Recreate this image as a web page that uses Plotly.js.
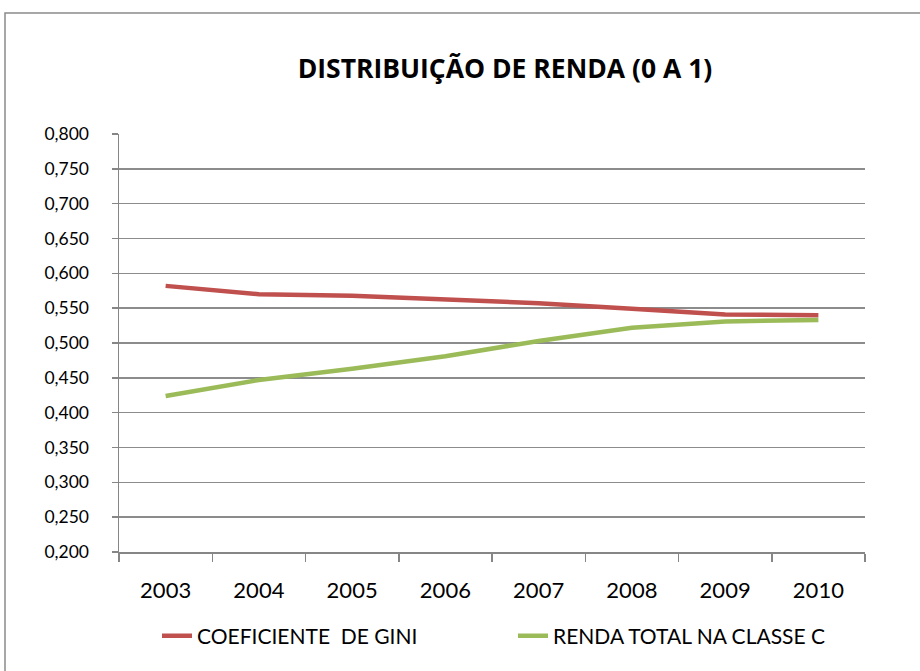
<!DOCTYPE html>
<html>
<head>
<meta charset="utf-8">
<script src="https://cdn.plot.ly/plotly-3.0.1.min.js"></script>
<style>body{margin:0;background:#fff}#chart{width:920px;height:671px}</style>
</head>
<body>
<div id="chart"></div>
<script>
const years = ['2003','2004','2005','2006','2007','2008','2009','2010'];
const gini = [0.582, 0.570, 0.568, 0.563, 0.557, 0.549, 0.541, 0.540];
const rendaC = [0.424, 0.447, 0.463, 0.481, 0.503, 0.522, 0.531, 0.533];
const seriesNames = ['COEFICIENTE  DE GINI', 'RENDA TOTAL NA CLASSE C'];
const yTicks = [0.2,0.25,0.3,0.35,0.4,0.45,0.5,0.55,0.6,0.65,0.7,0.75,0.8];

const FONT = "Lato, 'Open Sans', sans-serif";
const ML = 119, MR = 55, MT = 134, MB = 119, W = 920, H = 671;
const PW = W - ML - MR, PH = H - MT - MB;
const px = x => (x - ML) / PW;
const py = y => (H - MB - y) / PH;

const traces = [
  {x: years, y: gini, name: seriesNames[0], type: 'scatter', mode: 'lines',
   line: {color: '#C0504D', width: 4.5}},
  {x: years, y: rendaC, name: seriesNames[1], type: 'scatter', mode: 'lines',
   line: {color: '#9BBB59', width: 4.5}}
];

const layout = {
  width: W, height: H,
  margin: {l: ML, r: MR, t: MT, b: MB, pad: 0},
  paper_bgcolor: '#fff', plot_bgcolor: '#fff',
  separators: ',.',
  font: {family: FONT, size: 17, color: '#000'},
  title: {text: '<b>DISTRIBUIÇÃO DE RENDA (0 A 1)</b>', font: {family: "'Open Sans', Lato, sans-serif", size: 26.5, color: '#000'},
          xref: 'container', yref: 'container', x: 505 / W, y: 1 - 69 / H, xanchor: 'center', yanchor: 'middle'},
  xaxis: {type: 'category', range: [-0.5, 7.5], showgrid: false, zeroline: false, showline: true, linecolor: '#868686', linewidth: 1.5,
          ticks: 'outside', tickson: 'boundaries', ticklen: 8, tickcolor: '#868686', tickwidth: 1.5,
          ticklabelstandoff: 18, tickfont: {family: FONT, size: 22, color: '#000'}, fixedrange: true},
  yaxis: {range: [0.2, 0.8], tickvals: yTicks, tickformat: '.3f', showgrid: true, gridcolor: '#8c8c8c', gridwidth: 1.5,
          zeroline: false, showline: true, linecolor: '#868686', linewidth: 1.5,
          ticks: 'outside', ticklen: 6, tickcolor: '#868686', tickwidth: 1.5,
          ticklabelstandoff: 19, tickfont: {family: FONT, size: 17.5, color: '#000'}, fixedrange: true},
  showlegend: true,
  legend: {orientation: 'h', x: px(157), y: py(636), xanchor: 'left', yanchor: 'middle',
           entrywidth: 311, entrywidthmode: 'pixels', font: {family: FONT, size: 21, color: '#000'},
           bgcolor: 'rgba(0,0,0,0)', itemclick: false},
  shapes: [
    {type: 'rect', xref: 'paper', yref: 'paper', x0: px(5), x1: px(930), y0: py(680), y1: py(13),
     line: {color: '#8a8a8a', width: 1.5}, fillcolor: 'rgba(0,0,0,0)', layer: 'below'}
  ]
};

Plotly.newPlot('chart', traces, layout, {displayModeBar: false, staticPlot: true});
</script>
</body>
</html>
